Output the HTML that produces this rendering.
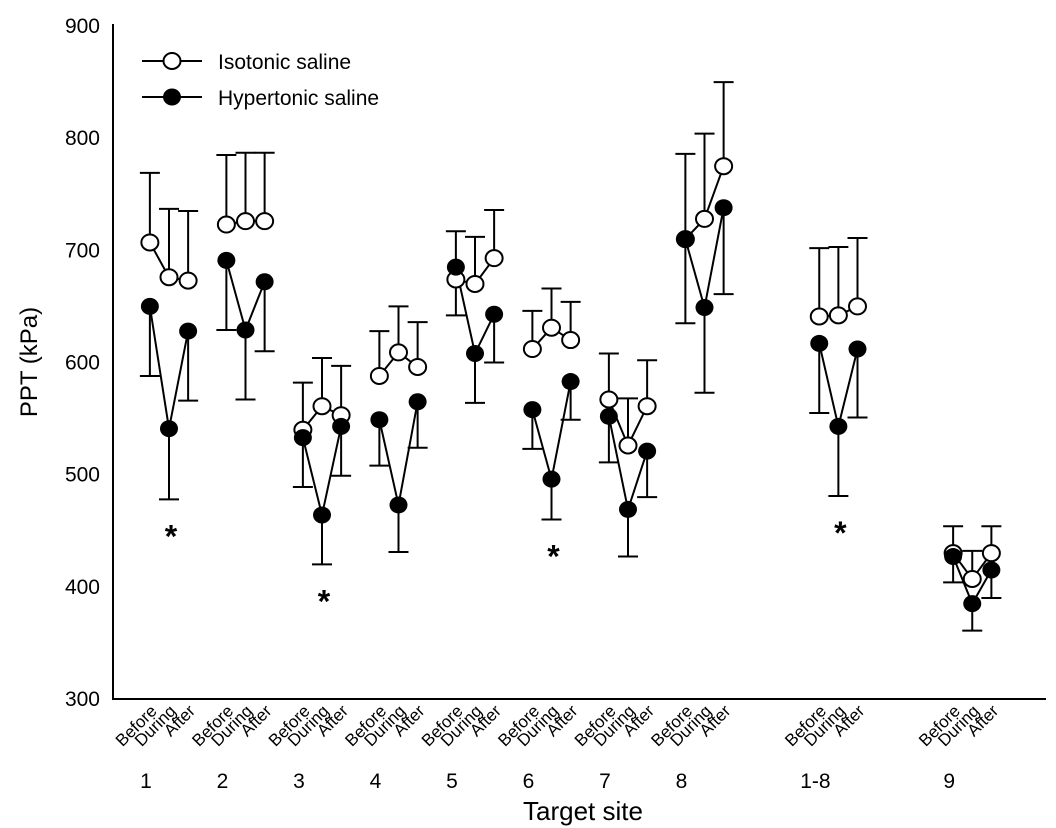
<!DOCTYPE html>
<html><head><meta charset="utf-8">
<style>
html,body{margin:0;padding:0;background:#fff;}
svg{display:block;font-family:"Liberation Sans",Arial,sans-serif;}
</style></head>
<body>
<svg id="chart" width="1056" height="828" viewBox="0 0 1056 828" xmlns="http://www.w3.org/2000/svg">
<g id="axes"></g>
<g id="marks"></g>
<g id="legend">
  <line x1="142" y1="61" x2="202" y2="61" stroke="#000" stroke-width="2"/>
  <ellipse cx="172" cy="61" rx="8.5" ry="8" fill="#fff" stroke="#000" stroke-width="2"/>
  <text x="218" y="69" font-size="21">Isotonic saline</text>
  <line x1="142" y1="97" x2="202" y2="97" stroke="#000" stroke-width="2"/>
  <ellipse cx="172" cy="97" rx="9" ry="8.5" fill="#000"/>
  <text x="218" y="105" font-size="21">Hypertonic saline</text>
</g>
</svg>
<script>
const groups = ["1","2","3","4","5","6","7","8","1-8","9"];
const groupSlots = [0,4,8,12,16,20,24,28,35,42];
const phases = ["Before","During","After"];
const isoMean = [[707,676,673],[723,726,726],[540,561,553],[588,609,596],[674,670,693],[612,631,620],[567,526,561],[710,728,775],[641,642,650],[430,407,430]];
const isoUpper = [[769,737,735],[785,787,787],[582,604,597],[628,650,636],[717,712,736],[646,666,654],[608,568,602],[786,804,850],[702,703,711],[454,432,454]];
const hypMean = [[650,541,628],[691,629,672],[533,464,543],[549,473,565],[685,608,643],[558,496,583],[552,469,521],[710,649,738],[617,543,612],[427,385,415]];
const hypLower = [[588,478,566],[629,567,610],[489,420,499],[508,431,524],[642,564,600],[523,460,549],[511,427,480],[635,573,661],[555,481,551],[404,361,390]];
const sigGroups = [0,2,5,8];
const yTicks = [300,400,500,600,700,800,900];

const NS="http://www.w3.org/2000/svg";
function y(v){return 699-(v-300)*1.1217;}
function x(gi,pi){return 169+19.125*(groupSlots[gi]+pi-1);}
function mk(tag,attrs,parent){const e=document.createElementNS(NS,tag);for(const k in attrs)e.setAttribute(k,attrs[k]);parent.appendChild(e);return e;}
const axes=document.getElementById('axes'), marks=document.getElementById('marks');

let e=mk('line',{x1:113,y1:24,x2:113,y2:699,stroke:'#000','stroke-width':2},axes);


e=mk('line',{x1:112,y1:699,x2:1046,y2:699,stroke:'#000','stroke-width':2},axes);


yTicks.forEach(t=>{
  const tx=mk('text',{x:100,y:y(t)+7,'font-size':21,'text-anchor':'end'},axes);
  tx.textContent=t;
  
  
});
e=mk('text',{x:0,y:0,'font-size':24,'text-anchor':'middle',transform:'translate(37,362) rotate(-90)'},axes);
e.textContent='PPT (kPa)';


e=mk('text',{x:583,y:820,'font-size':26,'text-anchor':'middle'},axes);
e.textContent='Target site';



groups.forEach((g,gi)=>{
  phases.forEach((p,pi)=>{
    const px=x(gi,pi)+8;
    const t=mk('text',{x:0,y:0,'font-size':17,'text-anchor':'end',transform:`translate(${px},${712}) rotate(-45)`},axes);
    t.textContent=p;
    
    
  });
  const gl=mk('text',{x:x(gi,1)-23,y:788,'font-size':21,'text-anchor':'middle'},axes);
  gl.textContent=g;
  
  

  phases.forEach((p,pi)=>{
    const cx=x(gi,pi);
    let b=mk('path',{d:`M${cx},${y(isoMean[gi][pi])}V${y(isoUpper[gi][pi])}M${cx-10},${y(isoUpper[gi][pi])}H${cx+10}`,stroke:'#000','stroke-width':2,fill:'none'},marks);
    
    
    b=mk('path',{d:`M${cx},${y(hypMean[gi][pi])}V${y(hypLower[gi][pi])}M${cx-10},${y(hypLower[gi][pi])}H${cx+10}`,stroke:'#000','stroke-width':2,fill:'none'},marks);
    
    
  });
  let l=mk('polyline',{points:phases.map((p,pi)=>x(gi,pi)+','+y(isoMean[gi][pi])).join(' '),stroke:'#000','stroke-width':2,fill:'none'},marks);
  
  
  l=mk('polyline',{points:phases.map((p,pi)=>x(gi,pi)+','+y(hypMean[gi][pi])).join(' '),stroke:'#000','stroke-width':2,fill:'none'},marks);
  
  
  phases.forEach((p,pi)=>{
    const c=mk('ellipse',{cx:x(gi,pi),cy:y(isoMean[gi][pi]),rx:8.5,ry:8,fill:'#fff',stroke:'#000','stroke-width':2},marks);
    
    
  });
  phases.forEach((p,pi)=>{
    const c=mk('ellipse',{cx:x(gi,pi),cy:y(hypMean[gi][pi]),rx:9,ry:8.5,fill:'#000'},marks);
    
    
  });
});
sigGroups.forEach(gi=>{
  const yy=y(Math.min(...hypLower[gi]))+48;
  const s=mk('text',{x:x(gi,1)+2,y:yy,'font-size':32,'font-weight':'bold','text-anchor':'middle'},marks);
  s.textContent='*';
  
  
});
</script>
</body></html>
